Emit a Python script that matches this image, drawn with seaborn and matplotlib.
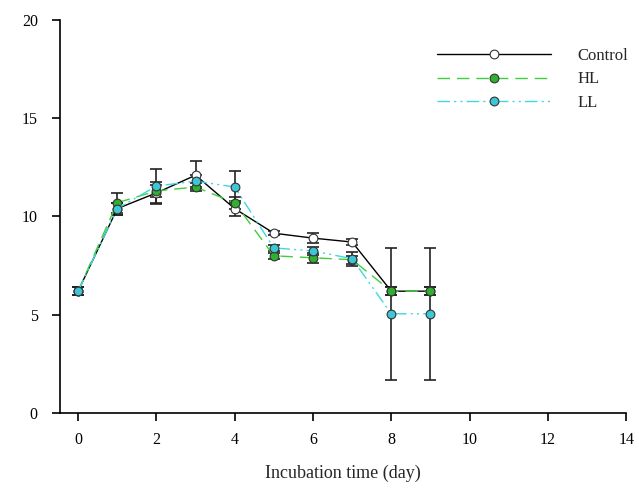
import matplotlib
matplotlib.use("Agg")
import matplotlib.pyplot as plt
import seaborn as sns
import numpy as np

days = [0, 1, 2, 3, 4, 5, 6, 7, 8, 9]
control = [6.2, 10.4, 11.2, 12.1, 10.4, 9.15, 8.9, 8.7, 6.2, 6.2]
control_err = [0.2, 0.3, 0.55, 0.7, 0.4, 0.1, 0.25, 0.15, 0.2, 0.2]
hl = [6.2, 10.7, 11.3, 11.5, 10.7, 8.0, 7.9, 7.8, 6.2, 6.2]
hl_err = [0.2, 0.5, 0.3, 0.2, 0.3, 0.15, 0.25, 0.2, 0.2, 0.2]
ll = [6.2, 10.4, 11.55, 11.8, 11.5, 8.4, 8.25, 7.85, 5.05, 5.05]
ll_err = [0.2, 0.3, 0.85, 0.3, 0.8, 0.15, 0.2, 0.35, 3.35, 3.35]

sns.set_style("ticks")
plt.rcParams['font.family'] = ['Liberation Serif', 'DejaVu Serif']

fig = plt.figure(figsize=(6.39, 5.0), dpi=100)
ax = fig.add_axes([0.094, 0.174, 0.886, 0.786])

series = [
    ("Control", control, control_err, "black", "white", "-", 1.0),
    ("HL", hl, hl_err, "#3fcf3f", "#2fb02f", (0, (9, 5)), 1.0),
    ("LL", ll, ll_err, "#40d8e0", "#3cc6d6", (0, (9, 3, 1.5, 3, 1.5, 3)), 1.0),
]

for name, vals, err, lc, mfc, ls, lw in series:
    ax.errorbar(days, vals, yerr=err, fmt="none", ecolor="#222222",
                elinewidth=1.2, capsize=4, capthick=1.2, zorder=2)

for name, vals, err, lc, mfc, ls, lw in series:
    sns.lineplot(x=days, y=vals, ax=ax, color=lc, linewidth=lw,
                 linestyle=ls, marker="o", markersize=6.3,
                 markerfacecolor=mfc, markeredgecolor="#333333",
                 markeredgewidth=0.8, label=name, zorder=3)

ax.set_xlim(-0.46, 14.0)
ax.set_ylim(0, 20)
ax.set_xticks(range(0, 15, 2))
ax.set_yticks([0, 5, 10, 15, 20])
ax.tick_params(axis="both", direction="out", length=6, width=1.2,
               labelsize=11.5, colors="black")
ax.tick_params(axis="y", pad=10)
ax.tick_params(axis="x", pad=8)
sns.despine(ax=ax)
for s in ["left", "bottom"]:
    ax.spines[s].set_linewidth(1.2)
    ax.spines[s].set_color("black")

ax.set_xlabel("Incubation time (day)", fontsize=13, labelpad=12)
ax.set_ylabel("")

leg = ax.legend(loc="upper right", bbox_to_anchor=(1.03, 0.967),
                frameon=False, fontsize=12, handlelength=6.8,
                handletextpad=1.6, labelspacing=0.45)

fig.savefig("out.png", dpi=100)
